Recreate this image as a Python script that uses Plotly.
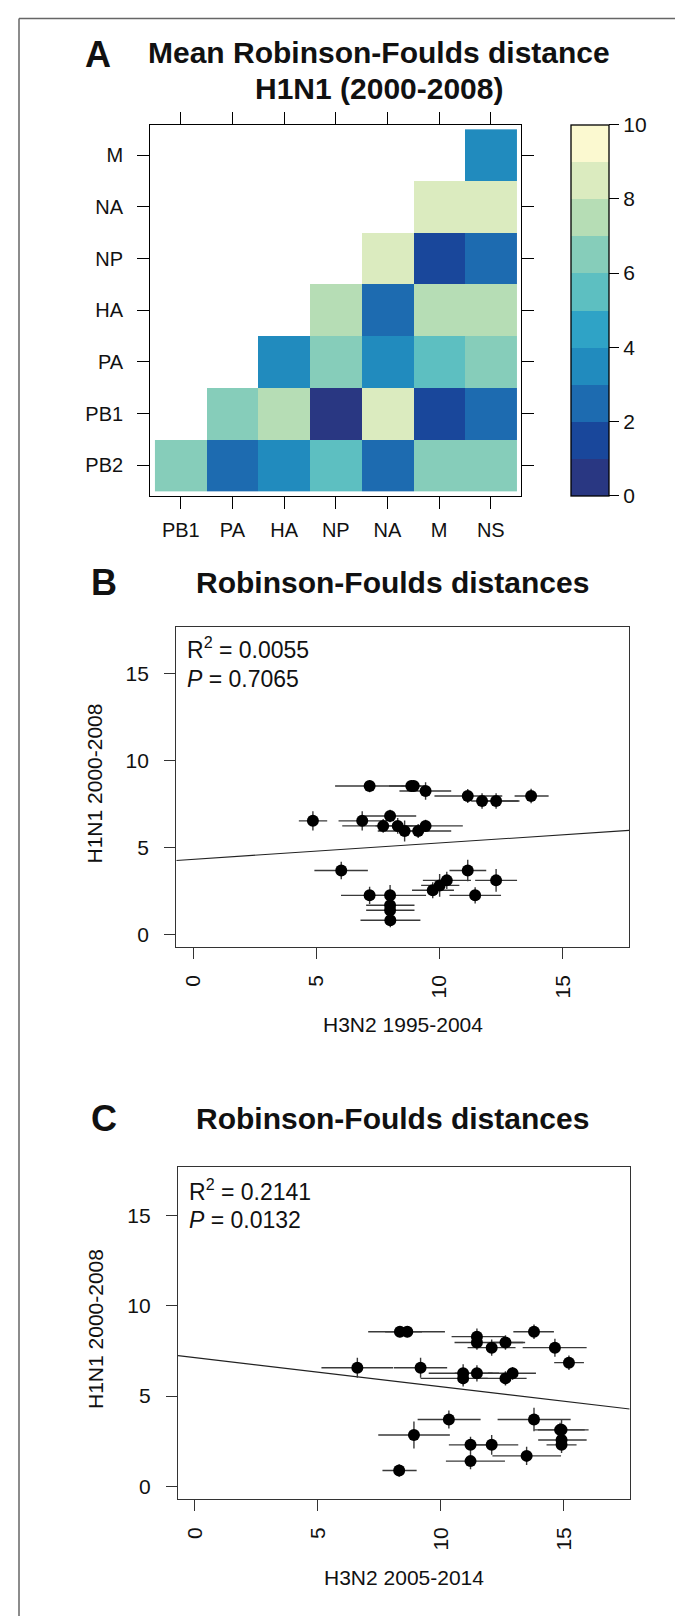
import plotly.graph_objects as go

W, H = 683, 1616
FONT = "Liberation Sans, Arial, Helvetica, sans-serif"

# ---------------- Panel A data ----------------
hm_cols = ["PB1", "PA", "HA", "NP", "NA", "M", "NS"]
hm_rows = ["PB2", "PB1", "PA", "HA", "NP", "NA", "M"]  # bottom -> top
hm_PB2 = [6.25, 2.26, 3.12, 5.96, 2.26, 6.54, 6.25]
hm_PB1 = [None, 6.82, 7.68, 0.83, 8.54, 1.40, 2.55]
hm_PA = [None, None, 3.69, 6.54, 3.12, 5.96, 6.25]
hm_HA = [None, None, None, 7.97, 2.26, 7.68, 7.97]
hm_NP = [None, None, None, None, 8.26, 1.69, 2.83]
hm_NA = [None, None, None, None, None, 8.54, 8.54]
hm_M = [None, None, None, None, None, None, 3.69]
level_colors = ["#293782", "#19479B", "#1D6BB0", "#218BBE", "#2FA3C6",
                "#5DBFC1", "#86CDBA", "#B6DDB5", "#DBEBBF", "#FBF9D0"]
cbar_ticks = [0, 2, 4, 6, 8, 10]

# ---------------- Panel B data (H3N2 1995-2004 vs H1N1 2000-2008) ----------------
B_x = [7.16, 8.85, 9.43, 11.14, 11.72, 12.29, 13.71, 8.95, 4.86, 6.86, 7.99, 7.71, 8.30, 8.58,
       9.13, 9.43, 6.01, 7.16, 7.99, 7.99, 7.99, 8.00, 9.72, 10.00, 10.29, 11.14, 12.29, 11.44]
B_y = [8.54, 8.54, 8.26, 7.97, 7.68, 7.68, 7.97, 8.54, 6.54, 6.54, 6.82, 6.25, 6.25, 5.96,
       5.96, 6.25, 3.69, 2.26, 2.26, 1.69, 1.40, 0.83, 2.55, 2.83, 3.12, 3.69, 3.12, 2.26]
B_xminus = [1.40, 0.90, 1.06, 1.35, 0.44, 0.60, 0.67, 0.50, 0.57, 0.96, 1.04, 1.66, 0.90, 1.09,
            0.90, 1.00, 1.09, 1.16, 1.00, 0.97, 0.97, 1.21, 0.84, 0.75, 0.97, 0.74, 0.85, 1.04]
B_xplus = [1.40, 0.40, 1.04, 1.40, 1.52, 0.90, 0.71, 0.50, 0.58, 0.97, 1.06, 1.20, 1.00, 1.00,
           1.34, 1.51, 1.08, 1.00, 1.46, 0.99, 0.99, 1.22, 0.86, 0.80, 0.98, 0.75, 0.85, 1.05]
B_yerr = [0.35, 0.30, 0.50, 0.40, 0.45, 0.45, 0.42, 0.30, 0.55, 0.55, 0.36, 0.40, 0.45, 0.60,
          0.40, 0.35, 0.50, 0.50, 0.60, 0.30, 0.30, 0.40, 0.46, 0.65, 0.50, 0.62, 0.65, 0.47]
B_intercept, B_slope = 4.33, 0.094
B_stats = ("0.0055", "0.7065")

# ---------------- Panel C data (H3N2 2005-2014 vs H1N1 2000-2008) ----------------
C_x = [8.34, 8.64, 11.47, 11.47, 12.07, 12.63, 13.79, 14.64, 15.21, 6.61, 9.18, 10.91, 10.91, 11.47,
       12.63, 12.92, 10.33, 13.79, 8.91, 14.91, 14.85, 14.91, 14.91, 11.21, 12.07, 13.49, 11.21, 8.31]
C_y = [8.56, 8.56, 8.29, 7.97, 7.68, 7.97, 8.56, 7.68, 6.85, 6.57, 6.57, 6.26, 5.98, 6.26,
       5.98, 6.26, 3.70, 3.70, 2.85, 3.13, 3.13, 2.57, 2.30, 2.30, 2.30, 1.69, 1.40, 0.88]
C_xminus = [1.29, 0.90, 1.03, 0.91, 0.98, 0.60, 0.84, 1.31, 0.60, 1.46, 1.08, 1.40, 1.73, 0.90,
            1.00, 1.00, 1.27, 1.48, 1.45, 1.11, 0.90, 0.95, 0.61, 0.88, 0.82, 1.39, 1.00, 0.68]
C_xplus = [0.90, 1.53, 1.14, 1.88, 0.97, 0.80, 0.81, 1.29, 0.61, 1.46, 1.08, 1.20, 1.00, 0.90,
           0.86, 0.95, 1.29, 1.49, 1.46, 1.10, 1.00, 1.02, 0.61, 0.86, 1.08, 1.40, 1.40, 0.71]
C_yerr = [0.30, 0.30, 0.45, 0.40, 0.45, 0.40, 0.40, 0.50, 0.40, 0.55, 0.55, 0.50, 0.45, 0.45,
          0.40, 0.35, 0.50, 0.65, 0.75, 0.60, 0.40, 0.40, 0.45, 0.45, 0.55, 0.50, 0.45, 0.35]
C_intercept, C_slope = 7.13, -0.161
C_stats = ("0.2141", "0.0132")

scatter_range = [-0.68, 17.68]


def px_x(p):
    return p / W


def px_y(p):
    return 1 - p / H


# discrete colourscale
cs = []
n = len(level_colors)
for i, c in enumerate(level_colors):
    cs.append([i / n, c])
    cs.append([(i + 1) / n, c])

fig = go.Figure()

fig.add_trace(go.Heatmap(
    x=hm_cols, y=hm_rows,
    z=[hm_PB2, hm_PB1, hm_PA, hm_HA, hm_NP, hm_NA, hm_M],
    zmin=0, zmax=10, colorscale=cs, hoverongaps=False,
    xaxis="x", yaxis="y",
    colorbar=dict(
        thicknessmode="pixels", thickness=37.7, lenmode="pixels", len=371,
        x=px_x(563.3), xanchor="left", xpad=0, y=px_y(302.2), yanchor="middle", ypad=0,
        outlinewidth=1.3, outlinecolor="black",
        tickmode="array", tickvals=cbar_ticks, ticks="outside", ticklen=10,
        tickwidth=1.3, tickcolor="black", tickprefix="\u2009\u2009",
        tickfont=dict(family=FONT, size=21, color="#111"),
    ),
))


def add_scatter(xs, ys, xm, xp, ye, icpt, slope, xa, ya):
    fig.add_trace(go.Scatter(
        x=scatter_range, y=[icpt + slope * v for v in scatter_range],
        mode="lines", line=dict(color="#222", width=1.1),
        xaxis=xa, yaxis=ya, showlegend=False, hoverinfo="skip"))
    fig.add_trace(go.Scatter(
        x=xs, y=ys, mode="markers",
        marker=dict(color="black", size=12),
        error_x=dict(type="data", symmetric=False, array=xp, arrayminus=xm,
                     color="#3a3a3a", thickness=1.4, width=0),
        error_y=dict(type="data", array=ye, color="#3a3a3a", thickness=1.4, width=0),
        xaxis=xa, yaxis=ya, showlegend=False))


add_scatter(B_x, B_y, B_xminus, B_xplus, B_yerr, B_intercept, B_slope, "x2", "y2")
add_scatter(C_x, C_y, C_xminus, C_xplus, C_yerr, C_intercept, C_slope, "x3", "y3")

tickfont = dict(family=FONT, size=21, color="#111")
hm_axis = dict(showline=True, linecolor="black", linewidth=1.3, mirror="ticks",
               ticks="outside", ticklen=12, tickwidth=1.3, tickcolor="black",
               showgrid=False, zeroline=False, fixedrange=True,
               tickfont=dict(family=FONT, size=20, color="#111"))
sc_axis = dict(showline=True, linecolor="#333", linewidth=1.3, mirror=True,
               ticks="outside", ticklen=11, tickwidth=1.2, tickcolor="#333",
               showgrid=False, zeroline=False, range=scatter_range,
               tickvals=[0, 5, 10, 15], tickfont=tickfont)

fig.update_layout(
    width=W, height=H, margin=dict(l=0, r=0, t=0, b=0),
    paper_bgcolor="white", plot_bgcolor="white", showlegend=False,
    font=dict(family=FONT, color="#111"),
    xaxis=dict(hm_axis, domain=[px_x(142.3), px_x(513.3)], range=[-0.59, 6.59],
               type="category", anchor="y", ticklabelstandoff=4),
    yaxis=dict(hm_axis, domain=[px_y(487.7), px_y(116.7)], range=[-0.59, 6.59],
               type="category", anchor="x", ticklabelstandoff=10),
    xaxis2=dict(sc_axis, domain=[px_x(168.3), px_x(621)], anchor="y2", tickangle=-90,
                ticklabelstandoff=8),
    yaxis2=dict(sc_axis, domain=[px_y(938.5), px_y(619)], anchor="x2", ticklabelstandoff=11),
    xaxis3=dict(sc_axis, domain=[px_x(170), px_x(621.7)], anchor="y3", tickangle=-90,
                ticklabelstandoff=8),
    yaxis3=dict(sc_axis, domain=[px_y(1490.7), px_y(1159)], anchor="x3", ticklabelstandoff=11),
)

ann = []


def text(x, y, s, size, bold=False, anchor="center", angle=0):
    if bold:
        s = "<b>" + s + "</b>"
    ann.append(dict(x=px_x(x), y=px_y(y), xref="paper", yref="paper", text=s,
                    showarrow=False, xanchor=anchor, yanchor="middle", textangle=angle,
                    font=dict(family=FONT, size=size, color="#111")))


# titles
text(90, 46, "A", 36, bold=True)
text(371, 45, "Mean Robinson-Foulds distance", 30, bold=True)
text(371, 81, "H1N1 (2000-2008)", 30, bold=True)
text(96, 575, "B", 36, bold=True)
text(384, 575, "Robinson-Foulds distances", 30, bold=True)
text(96, 1110, "C", 36, bold=True)
text(384, 1110, "Robinson-Foulds distances", 30, bold=True)

# axis titles
text(394.7, 1016, "H3N2 1995-2004", 21)
text(85.5, 776, "H1N1 2000-2008", 21, angle=-90)
text(395.8, 1569, "H3N2 2005-2014", 21)
text(87, 1321, "H1N1 2000-2008", 21, angle=-90)

# stats
text(177, 640, "R<sup>2</sup> = " + B_stats[0], 23, anchor="left")
text(177, 671, "<i>P</i> = " + B_stats[1], 23, anchor="left")
text(179, 1182, "R<sup>2</sup> = " + C_stats[0], 23, anchor="left")
text(179, 1212, "<i>P</i> = " + C_stats[1], 23, anchor="left")

fig.update_layout(annotations=ann, shapes=[
    dict(type="line", xref="paper", yref="paper", x0=px_x(11), x1=px_x(11), y0=0, y1=px_y(10.5),
         line=dict(color="#666", width=1.5)),
    dict(type="line", xref="paper", yref="paper", x0=px_x(11), x1=1, y0=px_y(10.5), y1=px_y(10.5),
         line=dict(color="#666", width=1.5)),
])

fig.write_html("out.html")
